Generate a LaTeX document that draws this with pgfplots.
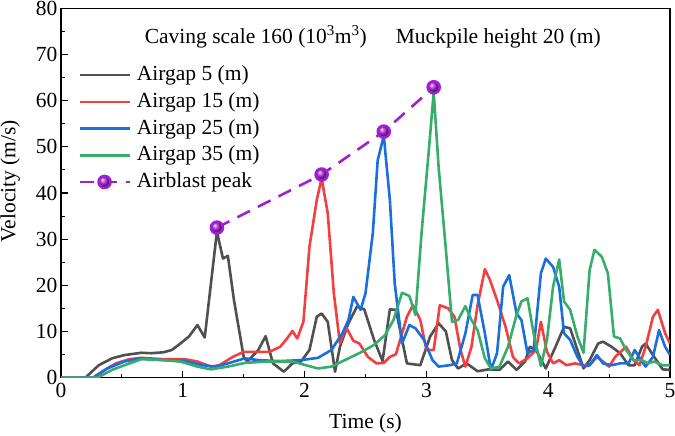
\documentclass[border=0pt]{standalone}
\usepackage{fontspec}
\setmainfont{Liberation Serif}
\usepackage{pgfplots}
\pgfplotsset{compat=1.18}
\definecolor{cgrey}{HTML}{505050}
\definecolor{cred}{HTML}{F24040}
\definecolor{cblue}{HTML}{1A6FDF}
\definecolor{cgreen}{HTML}{37AD6B}
\definecolor{cviolet}{HTML}{A020D0}
\newfontfamily\tnr{Liberation Serif}
\newcommand{\ff}{\tnr\fontsize{21.5}{25}\selectfont}
\begin{document}
\begin{tikzpicture}
\begin{axis}[
  scale only axis, width=609pt, height=369.4pt,
  xmin=0, xmax=5, ymin=0, ymax=80,
  xtick={0,1,2,3,4,5}, ytick={0,10,...,80},
  minor x tick num=1, minor y tick num=1,
  tick pos=left, tick align=inside,
  major tick length=7pt, minor tick length=4pt,
  every tick/.style={line width=1.1pt, black},
  axis line style={line width=1.2pt},
  /pgf/number format/assume math mode=true,
  ticklabel style={font=\ff},
  xticklabel style={yshift=-2pt},
  label style={font=\ff},
  xlabel={Time (s)}, ylabel={Velocity (m/s)},
  xlabel shift=9pt, ylabel shift=9pt,
  ylabel style={at={(ticklabel cs:0.532)}},
  legend cell align=left,
  legend style={at={(0.028,0.848)}, anchor=north west, draw=none, fill=none,
    font=\ff, inner sep=0pt, row sep=5.7pt, column sep=4pt,
    nodes={text height=16pt, text depth=5pt, inner ysep=0pt, inner xsep=2pt}},
  legend image code/.code={\draw[#1, mark repeat=2, mark phase=2] plot coordinates {(0pt,0pt)(25pt,0pt)(50pt,0pt)};},
  every axis plot/.append style={line width=2.6pt, line join=round},
]
\addplot[cgrey] coordinates {
(0,0)(0.2,0)(0.31,2.7)(0.42,4.2)(0.52,4.9)(0.66,5.4)(0.74,5.3)(0.84,5.5)(0.91,6.0)(0.98,7.4)
(1.05,8.9)(1.12,11.4)(1.18,8.7)(1.28,31.6)(1.33,25.8)(1.37,26.4)(1.42,16.8)(1.50,4.5)(1.53,3.5)
(1.62,6)(1.68,9.0)(1.74,3.1)(1.83,1.3)(1.90,3.1)(1.97,3.5)(2.04,6)(2.10,13.2)(2.14,13.9)(2.19,12.1)
(2.25,1.3)(2.29,6.7)(2.36,11.8)(2.43,15.4)(2.49,14.8)(2.57,8.2)(2.64,3.6)(2.70,14.8)(2.75,14.7)
(2.84,3.1)(2.95,2.7)(3.03,8.9)(3.10,11.8)(3.16,10.0)(3.21,3.8)(3.26,2.0)(3.33,3.1)(3.42,1.4)
(3.51,1.8)(3.60,1.7)(3.67,3.5)(3.74,1.7)(3.81,3.5)(3.85,6.7)(3.90,6.0)(3.98,2.0)(4.06,6.7)
(4.13,11.0)(4.18,10.7)(4.24,6)(4.29,2.0)(4.34,3.8)(4.41,7.4)(4.45,7.8)(4.52,6.7)(4.59,5.3)
(4.66,2.7)(4.71,2.7)(4.77,6.7)(4.80,7.4)(4.87,4.5)(4.94,1.8)(5.0,1.7)};
\addlegendentry{Airgap 5 (m)}
\addplot[cred] coordinates {
(0,0)(0.26,0)(0.36,1.7)(0.45,3.1)(0.56,4.0)(0.66,4.3)(0.84,4.0)(1.02,4.0)(1.12,3.5)(1.23,2.4)
(1.30,2.7)(1.41,4.5)(1.50,5.6)(1.62,5.6)(1.71,5.6)(1.80,6.7)(1.85,8.3)(1.90,10.1)(1.94,8.5)
(1.99,12.1)(2.04,28.4)(2.10,38.5)(2.14,43.2)(2.19,35.6)(2.24,18.3)(2.29,7.4)(2.34,11.0)(2.40,8.0)
(2.45,7.4)(2.52,4.5)(2.59,3.1)(2.65,3.2)(2.70,4.5)(2.75,5.1)(2.84,13.2)(2.89,15.7)(2.95,12.5)
(3.00,6.0)(3.06,6.0)(3.11,15.7)(3.18,15.0)(3.23,13.2)(3.28,6.0)(3.32,2.4)(3.37,6.7)(3.42,15.7)
(3.48,23.5)(3.52,21.3)(3.58,16.8)(3.65,11.0)(3.71,4.5)(3.76,3.1)(3.83,4.2)(3.90,6.0)(3.94,12.1)
(3.99,5.6)(4.04,3.1)(4.09,3.8)(4.15,2.7)(4.22,3.1)(4.29,2.7)(4.34,2.7)(4.40,4.5)(4.45,3.5)
(4.50,2.4)(4.55,4.5)(4.64,6.7)(4.70,3.8)(4.75,2.7)(4.80,6.7)(4.86,13.2)(4.90,14.7)(4.96,9.6)(5.0,7.4)};
\addlegendentry{Airgap 15 (m)}
\addplot[cblue] coordinates {
(0,0)(0.27,0)(0.38,2.0)(0.52,3.5)(0.66,4.2)(0.84,3.8)(1.02,3.6)(1.16,2.7)(1.27,2.4)(1.37,3.1)
(1.51,4.2)(1.62,3.8)(1.80,3.6)(1.97,3.8)(2.11,4.3)(2.22,6.0)(2.31,9.6)(2.36,12.5)(2.40,17.5)
(2.46,14.7)(2.50,18.3)(2.56,31.3)(2.60,47.1)(2.65,52.4)(2.70,38.5)(2.74,20.4)(2.80,7.4)(2.86,11.4)
(2.91,10.7)(2.98,8.2)(3.05,3.8)(3.10,2.4)(3.19,2.7)(3.25,3.1)(3.32,9.6)(3.38,17.9)(3.42,17.9)
(3.48,9.6)(3.53,1.7)(3.58,5.3)(3.63,19.7)(3.68,22.2)(3.74,13.9)(3.78,12.5)(3.83,5.3)(3.88,6.0)
(3.94,22.6)(3.98,25.8)(4.04,24.0)(4.09,19.7)(4.13,9.6)(4.18,8.2)(4.24,4.5)(4.29,2.4)(4.34,2.7)
(4.40,4.9)(4.45,3.1)(4.52,2.7)(4.59,3.1)(4.66,3.1)(4.71,6.0)(4.77,3.5)(4.80,2.4)(4.86,4.5)
(4.91,10.3)(4.96,6.7)(5.0,4.9)};
\addlegendentry{Airgap 25 (m)}
\addplot[cgreen] coordinates {
(0,0)(0.3,0)(0.42,1.7)(0.52,2.7)(0.66,4.0)(0.84,3.8)(0.98,3.5)(1.12,2.4)(1.23,1.8)(1.37,2.4)
(1.51,3.2)(1.69,3.5)(1.90,3.5)(2.01,2.7)(2.11,2.0)(2.22,2.4)(2.33,3.8)(2.47,5.6)(2.57,7.1)
(2.66,9.2)(2.73,12.5)(2.80,18.4)(2.86,17.7)(2.91,13.6)(2.96,31.3)(3.02,49.3)(3.06,61.8)(3.10,45.7)
(3.16,27.7)(3.21,12.1)(3.26,12.5)(3.32,15.5)(3.37,12.5)(3.42,10.3)(3.48,4.2)(3.53,2.0)(3.60,2.4)
(3.67,6.7)(3.74,13.6)(3.78,16.5)(3.83,17.2)(3.88,9.6)(3.94,2.5)(3.99,8.2)(4.04,19.7)(4.09,25.6)
(4.13,16.5)(4.18,14.7)(4.24,8.9)(4.29,5.4)(4.34,23.3)(4.38,27.7)(4.44,26.2)(4.49,22.6)(4.54,8.9)
(4.59,8.5)(4.64,6.0)(4.70,3.8)(4.77,3.8)(4.82,3.1)(4.87,3.5)(4.94,2.7)(5.0,2.7)};
\addlegendentry{Airgap 35 (m)}
\addplot[cviolet, dash pattern=on 14pt off 9pt, mark=ball, mark size=6pt,
  mark options={solid, ball color=cviolet}] coordinates {
(1.28,32.5)(2.14,44)(2.65,53.3)(3.06,62.9)};
\addlegendentry{Airblast peak}
\node[font=\ff, anchor=base] at (axis cs:1.6,72.4) {Caving scale 160 (10\textsuperscript{3}m\textsuperscript{3})};
\node[font=\ff, anchor=base] at (axis cs:3.59,72.4) {Muckpile height 20 (m)};
\end{axis}
\pgfresetboundingbox
\path ([shift={(-61pt,-57.3pt)}]current axis.south west) rectangle ([shift={(5pt,8.3pt)}]current axis.north east);
\end{tikzpicture}
\end{document}
